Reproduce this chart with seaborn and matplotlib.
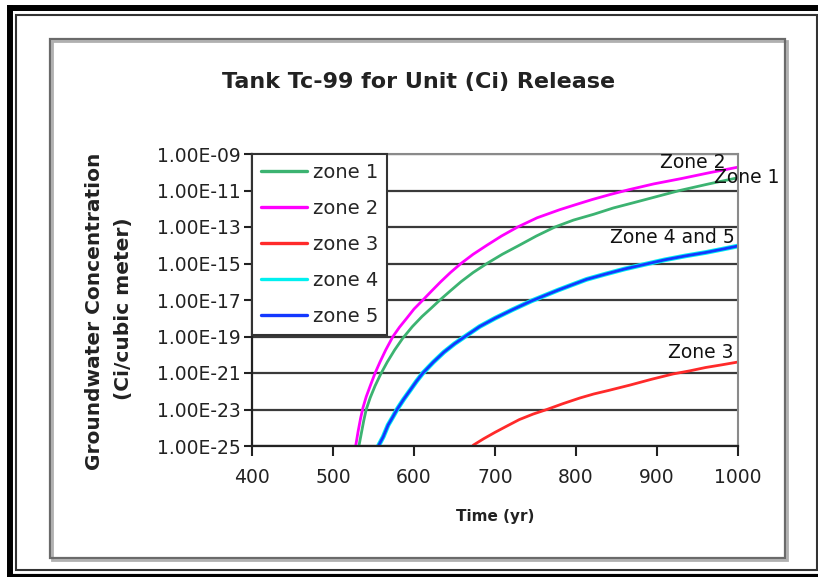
import numpy as np
import pandas as pd
import matplotlib
matplotlib.use("Agg")
import matplotlib.pyplot as plt
from matplotlib.patches import Rectangle
from matplotlib.lines import Line2D
from matplotlib.ticker import FixedLocator, FuncFormatter, NullLocator
import seaborn as sns

# Tc-99 groundwater concentration (Ci per cubic meter) per unit curie released
zone1_years = [532, 535, 538, 541, 546, 552, 559, 567, 576, 586, 598, 610, 621,
               632, 645, 658, 673, 690, 709, 730, 751, 774, 797, 822, 846, 872,
               900, 928, 964, 1000]
zone1_conc = [1.0e-25, 5.0e-25, 2.5e-24, 1.0e-23, 4.5e-23, 2.0e-22, 8.9e-22,
              4.0e-21, 1.8e-20, 7.9e-20, 3.5e-19, 1.26e-18, 3.5e-18, 1.0e-17,
              3.2e-17, 1.0e-16, 3.2e-16, 1.0e-15, 3.2e-15, 1.0e-14, 3.2e-14,
              1.0e-13, 2.4e-13, 5.0e-13, 1.1e-12, 2.2e-12, 4.7e-12, 1.0e-11,
              2.3e-11, 5.0e-11]

zone2_years = [528, 531, 534, 537, 541, 546, 552, 558, 565, 574, 582, 591, 600,
               611, 622, 633, 645, 658, 673, 690, 708, 728, 752, 780, 800, 820,
               842, 865, 896, 930, 965, 1000]
zone2_conc = [1.0e-25, 6.3e-25, 3.2e-24, 1.26e-23, 5.0e-23, 2.0e-22, 1.0e-21,
              4.0e-21, 1.8e-20, 1.0e-19, 3.2e-19, 1.0e-18, 3.2e-18, 1.0e-17,
              3.2e-17, 1.0e-16, 3.2e-16, 1.0e-15, 3.2e-15, 1.0e-14, 3.2e-14,
              1.0e-13, 3.2e-13, 8.9e-13, 1.7e-12, 3.2e-12, 6.0e-12, 1.1e-11,
              2.3e-11, 4.5e-11, 9.5e-11, 1.9e-10]

zone3_years = [673, 686, 700, 715, 730, 747, 764, 784, 805, 822, 840, 867, 893,
               920, 940, 960, 980, 1000]
zone3_conc = [1.1e-25, 2.5e-25, 5.6e-25, 1.26e-24, 2.8e-24, 5.6e-24, 1.0e-23,
              2.1e-23, 4.3e-23, 7.1e-23, 1.1e-22, 2.2e-22, 4.5e-22, 8.9e-22,
              1.3e-21, 2.0e-21, 2.8e-21, 4.0e-21]

zone45_years = [556, 562, 568, 574, 579, 587, 595, 603, 611, 624, 637, 650, 663,
                681, 700, 722, 745, 778, 813, 836, 860, 885, 910, 935, 960, 980,
                1000]
zone45_conc = [1.0e-25, 3.2e-25, 1.4e-24, 4.0e-24, 1.0e-23, 3.5e-23, 1.1e-22,
               3.5e-22, 1.0e-21, 4.0e-21, 1.4e-20, 4.0e-20, 1.0e-19, 3.5e-19,
               1.0e-18, 3.0e-18, 8.9e-18, 3.5e-17, 1.35e-16, 2.6e-16, 5.0e-16,
               9.0e-16, 1.6e-15, 2.6e-15, 4.0e-15, 6.0e-15, 9.1e-15]

zone_names = ["zone 1", "zone 2", "zone 3", "zone 4", "zone 5"]
zone_colors = ["#3cb371", "#ff00ff", "#ff2a2a", "#00f0f0", "#1438ff"]

x_ticks = [400, 500, 600, 700, 800, 900, 1000]
y_ticks = [1e-25, 1e-23, 1e-21, 1e-19, 1e-17, 1e-15, 1e-13, 1e-11, 1e-09]

curve_labels = ["Zone 2", "Zone 1", "Zone 4 and 5", "Zone 3"]

series = {
    "zone 1": (zone1_years, zone1_conc),
    "zone 2": (zone2_years, zone2_conc),
    "zone 3": (zone3_years, zone3_conc),
    "zone 4": (zone45_years, zone45_conc),
    "zone 5": (zone45_years, zone45_conc),
}
df = pd.concat(
    [pd.DataFrame({"Time (yr)": yrs, "conc": c, "zone": name})
     for name, (yrs, c) in series.items()],
    ignore_index=True,
)

sns.set_style("white")
plt.rcParams["font.family"] = ["DejaVu Sans"]

W, H = 818, 577
fig = plt.figure(figsize=(W / 100, H / 100), dpi=100)
fig.patch.set_facecolor("white")


def px_rect(x0, y0, x1, y1, **kw):
    return Rectangle((x0 / W, 1 - y1 / H), (x1 - x0) / W, (y1 - y0) / H,
                     transform=fig.transFigure, fill=False, **kw)


def px_line(xs, ys, **kw):
    return Line2D([x / W for x in xs], [1 - y / H for y in ys],
                  transform=fig.transFigure, **kw)


# page frame: heavy black rule with a thin inner rule
fig.add_artist(px_line([10, 10], [5, 577], color="black", lw=4.3, solid_capstyle="butt"))
fig.add_artist(px_line([7, 818], [8, 8], color="black", lw=4.3, solid_capstyle="butt"))
fig.add_artist(px_line([7, 818], [575.5, 575.5], color="black", lw=3.0, solid_capstyle="butt"))
fig.add_artist(px_rect(16, 15, 817, 570, edgecolor="#333333", lw=1.5))

# chart area box with a soft shadow
fig.add_artist(px_rect(52, 41, 787, 560, edgecolor="#b0b0b0", lw=2.0))
fig.add_artist(px_rect(50, 39, 785, 558, edgecolor="#6a6a6a", lw=1.6))

ax = fig.add_axes([252 / W, 1 - 446 / H, (738 - 252) / W, (446 - 154) / H])
ax.set_facecolor("white")

sns.lineplot(data=df, x="Time (yr)", y="conc", hue="zone", hue_order=zone_names,
             palette=zone_colors, estimator=None, lw=2.0, ax=ax, legend=True)
ax.lines[3].set_linewidth(3.4)

ax.set_yscale("log")
ax.set_xlim(400, 1000)
ax.set_ylim(1e-25, 1e-09)
ax.xaxis.set_major_locator(FixedLocator(x_ticks))
ax.yaxis.set_major_locator(FixedLocator(y_ticks))
ax.yaxis.set_minor_locator(NullLocator())
ax.yaxis.set_major_formatter(FuncFormatter(lambda v, _: f"{v:.2E}"))
ax.set_xlabel("")
ax.set_ylabel("")

ax.set_axisbelow(True)
ax.grid(axis="y", color="#3a3a3a", lw=1.6)
ax.grid(axis="x", visible=False)

for side in ("left", "bottom"):
    ax.spines[side].set_color("#222222")
    ax.spines[side].set_linewidth(1.6)
for side in ("top", "right"):
    ax.spines[side].set_color("#8a8a8a")
    ax.spines[side].set_linewidth(1.5)

ax.tick_params(axis="y", direction="out", length=6, width=1.5, pad=2,
               labelsize=13.5, colors="#222222", left=True)
ax.tick_params(axis="x", direction="out", length=7, width=1.5, pad=9,
               labelsize=13.5, colors="#222222", bottom=True)

handles, labels = ax.get_legend_handles_labels()
leg = ax.legend(handles, labels, loc="upper left", bbox_to_anchor=(0, 1),
                borderaxespad=0, frameon=True, fancybox=False, framealpha=1,
                edgecolor="#333333", fontsize=14, handlelength=2.4,
                handletextpad=0.3, labelspacing=0.88, borderpad=0.45)
leg.get_frame().set_linewidth(1.5)
for h in leg.get_lines():
    h.set_linewidth(2.4)

label_kw = dict(fontsize=13.5, color="#111111", clip_on=False)
ax.text(985, 3.6e-10, curve_labels[0], ha="right", va="center", **label_kw)
ax.text(970, 5.0e-11, curve_labels[1], ha="left", va="center", **label_kw)
ax.text(996, 2.8e-14, curve_labels[2], ha="right", va="center", **label_kw)
ax.text(994, 1.4e-20, curve_labels[3], ha="right", va="center", **label_kw)

fig.text(419 / W, 1 - 82 / H, "Tank Tc-99 for Unit (Ci) Release",
         ha="center", va="center", fontsize=16, fontweight="bold", color="#222222")
fig.text(95 / W, 1 - 311 / H, "Groundwater Concentration", rotation=90,
         ha="center", va="center", fontsize=14.5, fontweight="bold", color="#222222")
fig.text(123 / W, 1 - 309 / H, "(Ci/cubic meter)", rotation=90,
         ha="center", va="center", fontsize=14.5, fontweight="bold", color="#222222")
fig.text(495 / W, 1 - 517 / H, "Time (yr)", ha="center", va="center",
         fontsize=11, fontweight="bold", color="#222222")

fig.savefig("out.png", dpi=100)
